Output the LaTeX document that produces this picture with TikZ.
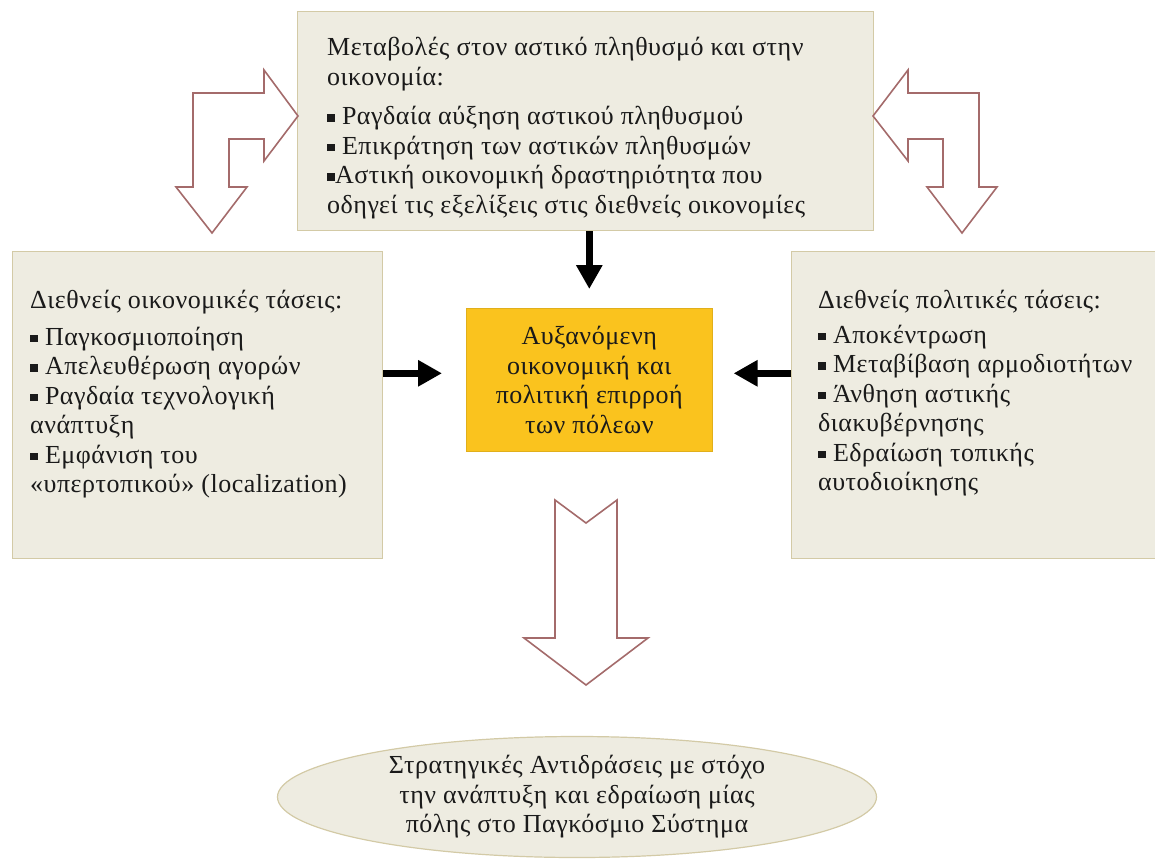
\documentclass[tikz,border=0pt]{standalone}
\usepackage{fontspec}
\setmainfont{Liberation Serif}[LetterSpace=2]
\usetikzlibrary{arrows.meta,shapes.geometric}
\definecolor{panel}{HTML}{EEECE1}
\definecolor{panelline}{HTML}{D3CAA6}
\definecolor{hollow}{HTML}{A46B6B}
\definecolor{focusfill}{HTML}{FAC31E}
\definecolor{ink}{HTML}{1A1A1A}
\newcommand\sqb{\rule[0.1em]{0.3em}{0.3em}}
\begin{document}
\begin{tikzpicture}[x=1pt,y=-1pt,
  panel/.style={draw=panelline, fill=panel, line width=1.2pt, inner sep=0pt, anchor=north west},
  body/.style={anchor=north west, align=left, inner sep=0pt, text=ink, font=\fontsize{26}{29.5}\selectfont},
  mid/.style={align=center, inner sep=0pt, text=ink, font=\fontsize{26}{29.5}\selectfont},
  push/.style={line width=7pt, -{Triangle[length=24pt,width=25pt]}},
  hollowarrow/.style={draw=hollow, line width=1.6pt, fill=white, line join=miter}]
\useasboundingbox (0,0) rectangle (1155,861);

% panels
\node[panel, minimum width=576pt, minimum height=219pt] (top) at (297,11) {};
\node[panel, minimum width=370pt, minimum height=307pt] (left) at (12,251) {};
\node[panel, minimum width=380pt, minimum height=307pt] (right) at (791,251) {};
\node[draw=focusfill!90!black, line width=0.6pt, fill=focusfill, minimum width=246pt, minimum height=143pt, inner sep=0pt, anchor=north west] (focus) at (466,308) {};

% panel texts
\node[body] (toptext) at (327,37) {Μεταβολές στον αστικό πληθυσμό και στην\\
οικονομία:\\[10pt]
\sqb\ Ραγδαία αύξηση αστικού πληθυσμού\\
\sqb\ Επικράτηση των αστικών πληθυσμών\\
\sqb Αστική οικονομική δραστηριότητα που\\
οδηγεί τις εξελίξεις στις διεθνείς οικονομίες};

\node[body] (lefttext) at (30,290) {Διεθνείς οικονομικές τάσεις:\\[7pt]
\sqb\ Παγκοσμιοποίηση\\
\sqb\ Απελευθέρωση αγορών\\
\sqb\ Ραγδαία τεχνολογική\\
ανάπτυξη\\
\sqb\ Εμφάνιση του\\
«υπερτοπικού» (localization)};

\node[body] (righttext) at (818,290) {Διεθνείς πολιτικές τάσεις:\\[5pt]
\sqb\ Αποκέντρωση\\
\sqb\ Μεταβίβαση αρμοδιοτήτων\\
\sqb\ Άνθηση αστικής\\
διακυβέρνησης\\
\sqb\ Εδραίωση τοπικής\\
αυτοδιοίκησης};

\node[mid] (focustext) at (focus.center) {Αυξανόμενη\\οικονομική και\\πολιτική επιρροή\\των πόλεων};

% goal ellipse
\node[ellipse, draw=panelline, fill=panel, line width=1.2pt, minimum width=599pt, minimum height=121pt, inner sep=0pt, align=center, text=ink, font=\fontsize{26}{29.5}\selectfont] (goal) at (577,797) {Στρατηγικές Αντιδράσεις με στόχο\\την ανάπτυξη και εδραίωση μίας\\πόλης στο Παγκόσμιο Σύστημα};

% solid arrows into the centre
\coordinate (lin) at ([yshift=6.5pt]focus.west);
\coordinate (rin) at ([yshift=6.5pt]focus.east);
\draw[push, shorten >=19pt] (top.south -| focus.north) -- (focus.north);
\draw[push, shorten >=24pt] (left.east |- lin) -- (lin);
\draw[push, shorten >=21pt] (right.west |- rin) -- (rin);

% hollow bent arrows
\draw[hollowarrow] (298,116) -- (264,70) -- (264,93) -- (193,93) -- (193,187) -- (176,187)
  -- (212,233) -- (247,187) -- (229,187) -- (229,139) -- (264,139) -- (264,161) -- cycle;
\draw[hollowarrow] (873,116) -- (908,70) -- (908,93) -- (979,93) -- (979,187) -- (997,187)
  -- (962,233) -- (927,187) -- (943,187) -- (943,139) -- (908,139) -- (908,161) -- cycle;

% hollow down arrow
\draw[hollowarrow] (555,500) -- (586,523) -- (617,500) -- (617,638) -- (648,638) -- (586,685)
  -- (524,638) -- (555,638) -- cycle;
\end{tikzpicture}
\end{document}
